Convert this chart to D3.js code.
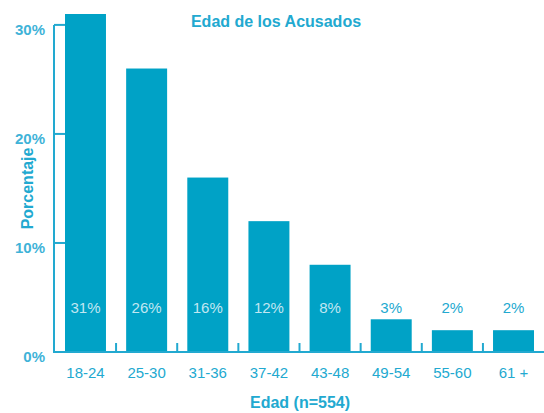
<!DOCTYPE html>
<html>
<head>
<meta charset="utf-8">
<script src="https://cdn.jsdelivr.net/npm/d3@7"></script>
<style>
  body { margin: 0; background: #fff; }
  svg text { font-family: "Liberation Sans", Arial, sans-serif; }
</style>
</head>
<body>
<div id="chart"></div>
<script>
const categories = ["18-24", "25-30", "31-36", "37-42", "43-48", "49-54", "55-60", "61 +"];
const values = [31, 26, 16, 12, 8, 3, 2, 2];
const yTicks = [0, 10, 20, 30];

const W = 544, H = 413;
const margin = { top: 14, right: 0, bottom: 61, left: 54 };
const width = W - margin.left - margin.right;
const height = H - margin.top - margin.bottom;

const barColor = "#00a2c6";
const textColor = "#22a9d0";

const svg = d3.select("#chart")
  .append("svg")
  .attr("width", W)
  .attr("height", H);

const g = svg.append("g")
  .attr("transform", `translate(${margin.left},${margin.top})`);

const x = d3.scaleBand()
  .domain(categories)
  .range([0, width + 1])
  .paddingInner(0.33)
  .paddingOuter(0.18);

const y = d3.scaleLinear()
  .domain([0, 31])
  .range([height, 0]);

// bars
g.selectAll(".bar")
  .data(values)
  .enter()
  .append("rect")
  .attr("class", "bar")
  .attr("x", (d, i) => x(categories[i]))
  .attr("y", d => y(d))
  .attr("width", x.bandwidth())
  .attr("height", d => height - y(d))
  .attr("fill", barColor);

// y axis line + inward ticks
g.append("line")
  .attr("x1", 0).attr("x2", 0)
  .attr("y1", y(30)).attr("y2", height)
  .attr("stroke", textColor).attr("stroke-width", 2);

g.selectAll(".ytick")
  .data(yTicks.filter(d => d > 0))
  .enter()
  .append("line")
  .attr("x1", 0).attr("x2", 11)
  .attr("y1", d => y(d)).attr("y2", d => y(d))
  .attr("stroke", textColor).attr("stroke-width", 2);

g.selectAll(".ylabel")
  .data(yTicks)
  .enter()
  .append("text")
  .attr("x", -9)
  .attr("y", d => y(d) + 10)
  .attr("text-anchor", "end")
  .attr("font-size", 15)
  .attr("font-weight", "bold")
  .attr("fill", "#3fb3d8")
  .text(d => d + "%");

// x axis line + boundary ticks
g.append("line")
  .attr("x1", -1).attr("x2", width)
  .attr("y1", height).attr("y2", height)
  .attr("stroke", textColor).attr("stroke-width", 2);

g.selectAll(".xtick")
  .data(categories.slice(1))
  .enter()
  .append("line")
  .attr("x1", d => x(d) - x.step() * x.paddingInner() / 2)
  .attr("x2", d => x(d) - x.step() * x.paddingInner() / 2)
  .attr("y1", height).attr("y2", height - 9)
  .attr("stroke", textColor).attr("stroke-width", 2);

g.selectAll(".xlabel")
  .data(categories)
  .enter()
  .append("text")
  .attr("x", d => x(d) + x.bandwidth() / 2)
  .attr("y", height + 26)
  .attr("text-anchor", "middle")
  .attr("font-size", 15)
  .attr("fill", textColor)
  .text(d => d);

// value labels
const labelY = height - 39;
g.selectAll(".val")
  .data(values)
  .enter()
  .append("text")
  .attr("x", (d, i) => x(categories[i]) + x.bandwidth() / 2)
  .attr("y", labelY)
  .attr("text-anchor", "middle")
  .attr("font-size", 15)
  .attr("fill", d => y(d) < labelY - 16 ? "#c2e7f2" : textColor)
  .text(d => d + "%");

// titles
svg.append("text")
  .attr("x", 276)
  .attr("y", 27)
  .attr("text-anchor", "middle")
  .attr("font-size", 16)
  .attr("font-weight", "bold")
  .attr("fill", textColor)
  .text("Edad de los Acusados");

svg.append("text")
  .attr("transform", `translate(33,${margin.top + y(15)}) rotate(-90)`)
  .attr("text-anchor", "middle")
  .attr("font-size", 16)
  .attr("font-weight", "bold")
  .attr("fill", textColor)
  .text("Porcentaje");

svg.append("text")
  .attr("x", 300)
  .attr("y", 408)
  .attr("text-anchor", "middle")
  .attr("font-size", 16)
  .attr("font-weight", "bold")
  .attr("fill", textColor)
  .text("Edad (n=554)");
</script>
</body>
</html>
